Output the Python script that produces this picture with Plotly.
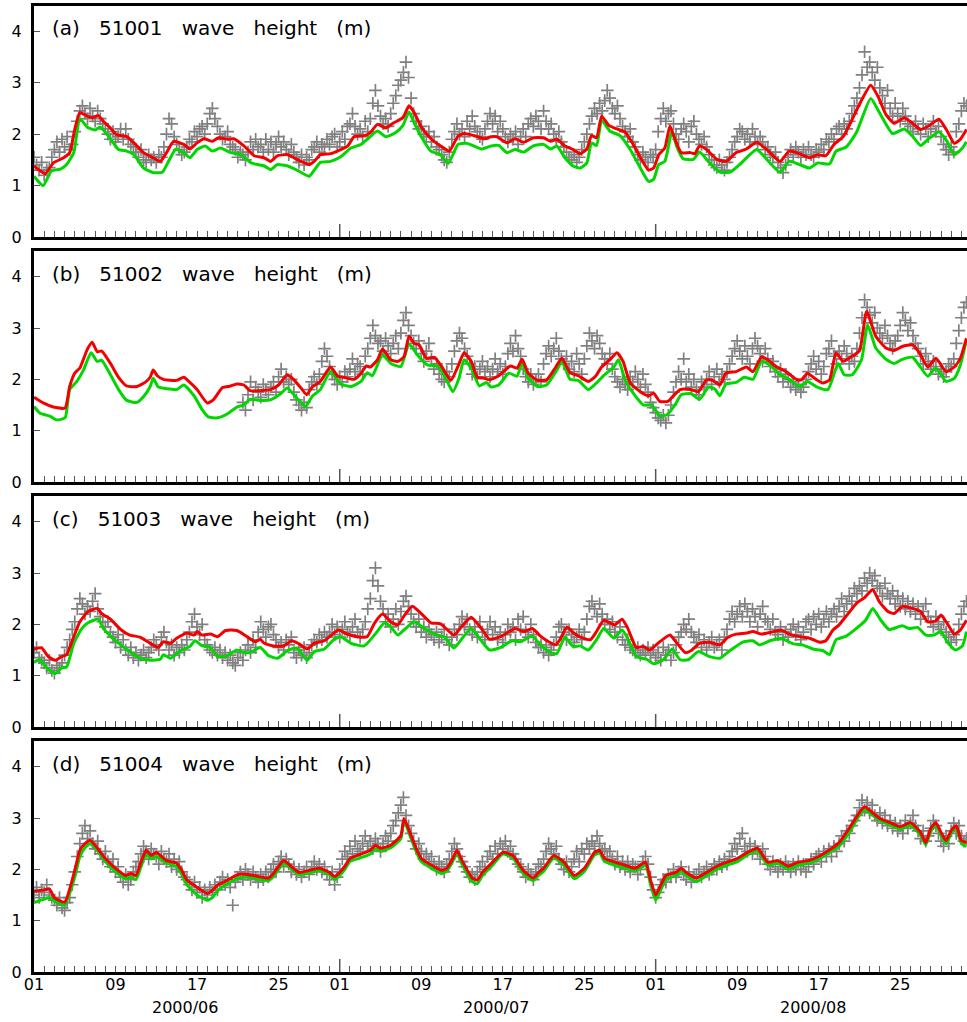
import pandas as pd
import plotly.graph_objects as go

# ---------------- data ----------------
start_date = "2000-06-01"
obs_step_days = 0.25          # observation sampling (6-hourly)
x_end_day = 91.55

panel_titles = ["(a) 51001 wave height (m)", "(b) 51002 wave height (m)",
                "(c) 51003 wave height (m)", "(d) 51004 wave height (m)"]
tick_label_dates = ["2000-06-01", "2000-06-09", "2000-06-17", "2000-06-25",
                    "2000-07-01", "2000-07-09", "2000-07-17", "2000-07-25",
                    "2000-08-01", "2000-08-09", "2000-08-17", "2000-08-25"]
tick_label_text = ["01", "09", "17", "25", "01", "09", "17", "25", "01", "09", "17", "25"]
month_label_text = ["2000/06", "2000/07", "2000/08"]
month_label_dates = ["2000-06-15 19:00", "2000-07-16 07:00", "2000-08-16 11:00"]
month_tick_dates = ["2000-07-01", "2000-08-01"]
y_tick_vals = [0, 1, 2, 3, 4]

# ---- panel (a) 51001 ----
a_red_day = [0, 0.5, 1.1, 1.9, 2.9, 3.5, 4.0, 4.5, 5.2, 5.8, 6.3, 6.8, 7.5, 8.1, 9.1, 9.8, 10.75, 11.7, 12.4, 13.0,
             13.7, 14.7, 15.3, 16.0, 16.7, 17.5, 18.1, 19.0, 19.6, 20.6, 21.6, 22.6, 23.2, 23.9, 24.9, 25.5, 26.2, 27.0,
             27.5, 28.1, 29.1, 30.1, 30.8, 31.4, 32.4, 33.0, 33.7, 34.5, 35.3, 36.2, 36.8, 37.3, 38.0, 38.95, 39.9,
             40.75, 41.6, 42.2, 43.2, 44.2, 44.85, 45.4, 46.4, 47.2, 48.05, 49.0, 50.0, 50.7, 51.3, 52.1, 52.9, 53.6,
             54.25, 54.7, 55.2, 55.7, 56.4, 57.2, 58.0, 58.8, 59.6, 60.3, 60.8, 61.3, 61.9, 62.4, 62.9, 63.5, 64.4,
             64.85, 65.3, 66.0, 67.0, 67.9, 68.9, 69.9, 70.9, 71.9, 73.2, 74.1, 75.1, 76.1, 76.9, 77.7, 78.5, 79.4,
             80.2, 81.0, 82.1, 82.8, 83.6, 84.4, 85.4, 86.2, 87.0, 87.8, 88.8, 89.6, 90.3, 90.9, 91.5]
a_red_hs = [1.38, 1.30, 1.23, 1.44, 1.54, 1.64, 2.09, 2.42, 2.35, 2.32, 2.36, 2.25, 2.12, 1.99, 1.95, 1.83, 1.64, 1.54,
            1.47, 1.64, 1.86, 1.80, 1.71, 1.83, 1.91, 1.86, 1.93, 1.90, 1.91, 1.77, 1.58, 1.54, 1.47, 1.58, 1.60, 1.54,
            1.47, 1.41, 1.47, 1.60, 1.62, 1.70, 1.77, 1.95, 1.97, 2.03, 2.19, 2.12, 2.22, 2.32, 2.55, 2.42, 2.14, 1.91,
            1.77, 1.67, 1.96, 2.01, 1.97, 1.91, 1.95, 1.95, 1.83, 1.91, 1.84, 1.93, 1.93, 1.86, 1.90, 1.77, 1.70, 1.62,
            1.71, 1.97, 1.93, 2.35, 2.17, 2.10, 2.04, 1.80, 1.51, 1.30, 1.34, 1.60, 1.73, 2.16, 1.90, 1.64, 1.64, 1.62,
            1.77, 1.70, 1.51, 1.47, 1.64, 1.71, 1.84, 1.70, 1.47, 1.67, 1.62, 1.54, 1.60, 1.58, 1.80, 1.95, 2.25, 2.58,
            2.95, 2.74, 2.38, 2.21, 2.32, 2.21, 2.09, 2.16, 2.29, 2.06, 1.82, 1.90, 2.09]
a_green_day = [0, 0.9, 1.7, 2.6, 3.2, 3.9, 4.5, 5.2, 6.0, 6.5, 7.5, 8.3, 9.1, 9.8, 10.75, 11.7, 12.6, 13.2, 13.9, 14.7,
               15.3, 16.0, 16.8, 17.5, 18.3, 19.3, 20.3, 21.3, 22.6, 23.2, 23.9, 24.9, 25.8, 27.0, 27.5, 28.1, 29.1,
               30.1, 31.1, 32.1, 32.7, 33.7, 34.5, 35.5, 36.2, 36.8, 37.3, 38.0, 38.95, 39.9, 40.65, 41.6, 42.5, 43.9,
               44.85, 45.6, 46.4, 47.2, 48.05, 49.0, 50.0, 50.7, 51.3, 52.1, 52.9, 53.6, 54.25, 54.7, 55.2, 55.7, 56.5,
               57.5, 58.5, 59.5, 60.3, 60.8, 61.3, 61.9, 62.6, 63.05, 63.7, 64.7, 65.3, 66.3, 67.3, 68.3, 69.25, 70.9,
               71.9, 73.2, 74.1, 75.1, 76.1, 76.9, 78.06, 78.7, 79.7, 80.7, 82.1, 82.95, 84.25, 85.4, 86.2, 87.0, 87.8,
               88.8, 89.6, 90.3, 91.1, 91.5]
a_green_hs = [1.18, 1.00, 1.28, 1.32, 1.41, 1.64, 2.30, 2.14, 2.08, 2.14, 1.91, 1.70, 1.67, 1.60, 1.34, 1.25, 1.26,
              1.47, 1.70, 1.64, 1.54, 1.70, 1.77, 1.67, 1.73, 1.64, 1.60, 1.44, 1.38, 1.31, 1.41, 1.38, 1.30, 1.18,
              1.30, 1.45, 1.47, 1.56, 1.73, 1.80, 1.90, 2.06, 1.95, 2.03, 2.17, 2.43, 2.22, 1.95, 1.67, 1.60, 1.43,
              1.80, 1.82, 1.71, 1.77, 1.78, 1.64, 1.70, 1.65, 1.77, 1.80, 1.71, 1.77, 1.54, 1.38, 1.34, 1.44, 1.83,
              1.78, 2.27, 2.06, 1.97, 1.70, 1.34, 1.08, 1.12, 1.41, 1.47, 2.06, 1.77, 1.52, 1.51, 1.65, 1.44, 1.26,
              1.26, 1.41, 1.70, 1.51, 1.26, 1.47, 1.41, 1.34, 1.44, 1.42, 1.67, 1.75, 2.03, 2.69, 2.42, 2.01, 2.10,
              1.96, 1.78, 1.91, 2.04, 1.86, 1.60, 1.73, 1.85]
a_obs_hs = [
    1.55, 1.40, 1.30, 1.45, 1.20, 1.30, 1.35, 1.55, 1.70, 1.85, 1.65, 1.90, 1.75, 1.95, 1.70, 1.80,
    2.05, 2.25, 2.45, 2.55, 2.40, 2.30, 2.50, 2.35, 2.25, 2.45, 2.30, 2.20, 2.10, 2.00, 1.90, 2.05,
    1.85, 1.95, 2.10, 1.90, 2.10, 1.90, 1.80, 1.75, 1.65, 1.55, 1.70, 1.50, 1.45, 1.60, 1.50, 1.55,
    1.45, 1.60, 1.55, 1.75, 2.00, 2.30, 2.20, 1.95, 1.80, 1.70, 1.60, 1.65, 1.75, 1.90, 1.85, 2.05,
    1.95, 2.10, 2.15, 2.00, 2.20, 2.40, 2.50, 2.30, 2.15, 2.00, 1.90, 1.95, 2.05, 1.80, 1.75, 1.70,
    1.55, 1.65, 1.60, 1.50, 1.65, 1.85, 1.70, 1.90, 1.75, 1.80, 1.65, 1.90, 1.70, 1.85, 1.65, 1.80,
    1.95, 1.75, 1.85, 1.70, 1.60, 1.80, 1.65, 1.55, 1.45, 1.60, 1.40, 1.55, 1.50, 1.70, 1.75, 1.85,
    1.65, 1.80, 1.75, 1.90, 1.80, 1.95, 2.00, 1.75, 1.85, 2.05, 1.90, 2.15, 2.20, 2.40, 2.15, 2.00,
    2.10, 1.95, 2.25, 2.05, 2.30, 2.60, 2.85, 2.55, 2.35, 2.20, 2.30, 2.15, 2.40, 2.60, 2.75, 2.95,
    3.05, 3.20, 3.40, 3.10, 2.70, 2.40, 2.25, 2.10, 2.15, 2.00, 1.95, 2.05, 1.85, 1.95, 1.75, 1.70,
    1.60, 1.50, 1.45, 1.65, 1.90, 2.05, 2.20, 2.00, 2.10, 1.95, 2.25, 2.10, 2.35, 2.15, 2.05, 1.95,
    1.90, 2.10, 2.25, 2.40, 2.20, 2.35, 2.05, 2.25, 2.10, 1.95, 1.85, 2.00, 1.90, 2.05, 1.80, 1.95,
    2.10, 1.95, 2.20, 2.30, 2.15, 2.35, 2.25, 2.10, 2.45, 2.25, 2.10, 2.20, 2.00, 1.90, 2.05, 1.85,
    1.75, 1.65, 1.55, 1.50, 1.60, 1.45, 1.55, 1.70, 1.85, 2.00, 2.20, 2.35, 2.50, 2.40, 2.60, 2.45,
    2.65, 2.85, 2.70, 2.50, 2.40, 2.55, 2.30, 2.15, 2.05, 1.95, 2.10, 1.85, 1.75, 1.60, 1.50, 1.65,
    1.55, 1.45, 1.60, 1.55, 1.70, 2.05, 2.30, 2.50, 2.25, 2.40, 2.45, 2.20, 2.00, 1.90, 2.10, 2.20,
    2.05, 1.85, 2.15, 2.25, 2.00, 1.90, 1.80, 1.95, 1.75, 1.60, 1.50, 1.40, 1.35, 1.50, 1.40, 1.30,
    1.45, 1.55, 1.70, 1.85, 1.95, 2.10, 2.05, 1.90, 2.00, 1.85, 2.10, 1.95, 1.80, 1.95, 1.85, 1.70,
    1.75, 1.60, 1.55, 1.65, 1.45, 1.35, 1.25, 1.40, 1.55, 1.70, 1.60, 1.75, 1.65, 1.55, 1.70, 1.60,
    1.75, 1.60, 1.55, 1.70, 1.65, 1.80, 1.70, 1.90, 1.85, 2.00, 1.90, 2.10, 2.15, 2.00, 2.20, 2.10,
    2.25, 2.40, 2.55, 2.70, 2.90, 3.15, 3.60, 3.30, 3.40, 3.20, 3.05, 3.30, 2.90, 2.75, 2.60, 2.85,
    2.50, 2.35, 2.60, 2.40, 2.25, 2.50, 2.35, 2.20, 2.15, 2.05, 2.25, 2.10, 2.00, 2.20, 2.10, 1.95,
    2.10, 2.25, 2.05, 2.15, 1.95, 1.80, 1.70, 1.60, 1.75, 1.65, 2.05, 2.20, 2.45, 2.60, 2.55]

# ---- panel (b) 51002 ----
b_red_day = [0, 0.9, 1.9, 3.05, 3.5, 4.0, 4.5, 5.2, 5.7, 6.2, 6.65, 7.5, 8.3, 9.1, 10.1, 10.9, 11.4, 11.7, 12.1, 12.7,
             14.0, 14.7, 15.3, 16.0, 17.0, 17.6, 18.5, 19.3, 19.9, 20.6, 21.2, 22.2, 23.2, 24.0, 24.85, 25.5, 26.2,
             26.75, 27.3, 28.1, 29.1, 29.8, 30.4, 31.4, 32.1, 32.6, 33.0, 33.7, 34.2, 35.0, 35.7, 36.3, 36.8, 37.3,
             37.8, 38.5, 39.3, 40.1, 40.9, 41.6, 42.2, 42.9, 43.5, 44.2, 44.7, 45.6, 46.75, 47.4, 47.9, 48.5, 49.4,
             50.3, 51.2, 51.8, 52.6, 53.4, 54.4, 55.1, 55.7, 56.5, 57.2, 57.8, 58.5, 59.5, 60.3, 60.8, 61.4, 62.2,
             62.7, 63.4, 64.4, 65.2, 66.0, 66.6, 67.3, 67.9, 68.9, 69.9, 70.55, 71.4, 72.0, 72.8, 73.8, 74.8, 75.3,
             75.9, 76.6, 77.4, 78.06, 78.7, 79.4, 80.2, 81.0, 81.7, 82.6, 83.6, 84.4, 85.2, 86.2, 86.9, 87.7, 88.5,
             89.5, 90.3, 90.9, 91.5]
b_red_hs = [1.65, 1.54, 1.46, 1.44, 1.86, 2.12, 2.22, 2.57, 2.72, 2.54, 2.55, 2.31, 2.04, 1.87, 1.86, 1.94, 2.04,
            2.18, 2.07, 2.00, 1.98, 2.04, 1.94, 1.80, 1.54, 1.60, 1.84, 1.87, 1.91, 1.89, 1.78, 1.78, 1.80, 1.89,
            2.09, 1.99, 1.83, 1.70, 1.85, 1.96, 2.24, 2.06, 2.04, 2.00, 2.12, 2.26, 2.24, 2.38, 2.59, 2.38, 2.35,
            2.44, 2.84, 2.70, 2.67, 2.41, 2.43, 2.22, 1.98, 2.25, 2.52, 2.35, 2.04, 2.02, 1.99, 2.07, 2.26, 2.22,
            2.39, 2.12, 1.98, 1.99, 2.24, 2.41, 2.13, 2.07, 1.96, 2.06, 2.24, 2.38, 2.52, 2.35, 1.93, 1.76, 1.68,
            1.73, 1.57, 1.57, 1.67, 1.80, 1.80, 1.76, 1.99, 1.98, 1.89, 2.12, 2.15, 2.24, 2.15, 2.44, 2.38, 2.25,
            2.15, 2.00, 1.99, 2.12, 2.02, 1.93, 1.99, 2.52, 2.35, 2.44, 2.56, 3.32, 2.84, 2.61, 2.56, 2.64, 2.67,
            2.51, 2.24, 2.41, 2.15, 2.24, 2.41, 2.80]
b_green_day = [0, 0.6, 1.6, 2.2, 3.05, 3.5, 4.2, 4.85, 5.6, 6.2, 6.65, 7.5, 8.3, 9.1, 10.1, 10.9, 11.4, 11.7, 12.2,
               13.4, 14.0, 14.7, 15.7, 16.5, 17.1, 18.0, 19.0, 19.9, 20.6, 21.2, 22.2, 23.2, 24.2, 24.85, 25.8, 26.65,
               27.3, 28.1, 29.1, 30.1, 31.1, 32.1, 32.7, 33.2, 34.2, 35.0, 36.0, 36.8, 37.6, 38.6, 39.6, 40.3, 41.1,
               41.7, 42.2, 42.9, 43.7, 44.4, 44.85, 45.6, 46.6, 47.4, 47.9, 48.5, 49.4, 50.3, 51.3, 51.8, 52.6, 53.4,
               54.4, 55.2, 56.0, 56.9, 57.35, 58.0, 58.8, 59.8, 60.6, 61.4, 62.1, 62.9, 63.5, 64.5, 65.3, 66.2, 66.8,
               67.3, 67.9, 68.9, 69.7, 70.55, 71.4, 72.2, 73.2, 74.1, 75.1, 75.9, 76.75, 77.9, 78.9, 79.5, 80.3, 81.2,
               81.8, 82.6, 83.6, 84.4, 85.2, 86.2, 86.9, 87.7, 88.5, 89.5, 90.3, 90.9, 91.5]
b_green_hs = [1.47, 1.34, 1.28, 1.21, 1.25, 1.80, 1.96, 2.18, 2.52, 2.35, 2.37, 2.09, 1.80, 1.59, 1.55, 1.70, 1.86,
              2.02, 1.85, 1.81, 1.80, 1.89, 1.68, 1.41, 1.27, 1.25, 1.33, 1.46, 1.50, 1.61, 1.59, 1.60, 1.72, 1.83,
              1.63, 1.47, 1.67, 1.80, 2.15, 1.91, 1.86, 1.96, 2.13, 2.07, 2.48, 2.31, 2.25, 2.69, 2.48, 2.28, 2.26,
              2.06, 1.76, 2.02, 2.38, 2.22, 1.87, 1.94, 1.85, 1.89, 2.12, 2.06, 2.33, 2.02, 1.86, 1.89, 2.18, 2.35,
              2.00, 1.98, 1.80, 1.93, 2.09, 2.24, 2.38, 1.99, 1.73, 1.50, 1.50, 1.29, 1.31, 1.50, 1.70, 1.72, 1.61,
              1.85, 1.81, 1.68, 1.91, 1.94, 2.04, 2.00, 2.35, 2.28, 2.09, 2.00, 1.85, 1.96, 1.86, 1.80, 2.31, 2.09,
              2.09, 2.38, 3.06, 2.61, 2.39, 2.31, 2.39, 2.43, 2.26, 2.06, 2.22, 1.96, 2.02, 2.28, 2.77]
b_obs_hs = [None] * 82 + [
    1.55, 1.40, 1.70, 1.95, 1.60, 1.85, 1.75, 1.65, 1.90, 1.80, 1.70, 1.85, 1.95, 1.75,
    2.05, 2.20, 1.95, 2.05, 1.90, 2.00, 1.75, 1.60, 1.50, 1.40, 1.55, 1.45, 1.80, 1.95, 2.05, 1.90,
    2.10, 2.35, 2.60, 2.45, 2.25, 2.10, 2.00, 1.90, 2.05, 1.95, 2.15, 2.05, 2.20, 2.40, 2.15, 2.30,
    2.25, 2.10, 2.45, 2.60, 2.80, 3.05, 2.85, 2.70, 2.75, 2.55, 2.80, 2.65, 2.50, 2.70, 2.85, 2.60,
    2.90, 3.15, 3.30, 3.05, 2.85, 2.70, 2.60, 2.75, 2.50, 2.35, 2.55, 2.70, 2.40, 2.20, 2.30, 2.10,
    2.00, 1.95, 2.15, 2.05, 2.30, 2.55, 2.75, 2.90, 2.80, 2.60, 2.45, 2.30, 2.10, 2.25, 2.05, 2.20,
    2.35, 2.15, 2.25, 2.05, 2.20, 2.40, 2.15, 2.30, 2.10, 2.25, 2.50, 2.70, 2.55, 2.85, 2.60, 2.45,
    2.20, 2.05, 1.95, 2.10, 1.90, 2.00, 2.10, 1.95, 2.30, 2.50, 2.65, 2.45, 2.60, 2.80, 2.55, 2.40,
    2.30, 2.45, 2.20, 2.35, 2.15, 2.50, 2.30, 2.10, 2.40, 2.65, 2.90, 2.75, 2.60, 2.85, 2.70, 2.50,
    2.40, 2.30, 2.50, 2.20, 2.05, 1.95, 1.85, 2.00, 1.90, 1.80, 2.05, 1.95, 2.15, 2.00, 1.85, 2.10,
    1.90, 1.75, 1.55, 1.45, 1.35, 1.25, 1.20, 1.30, 1.15, 1.30, 1.50, 1.75, 1.95, 2.15, 2.00, 2.40,
    1.95, 2.10, 1.85, 2.00, 1.80, 1.70, 1.95, 1.85, 2.00, 2.15, 1.90, 2.05, 2.20, 1.95, 2.10, 2.00,
    2.15, 2.30, 2.45, 2.60, 2.75, 2.55, 2.40, 2.65, 2.45, 2.30, 2.60, 2.80, 2.65, 2.50, 2.35, 2.60,
    2.40, 2.25, 2.35, 2.15, 2.05, 2.20, 1.95, 2.10, 2.00, 1.85, 1.95, 1.80, 1.90, 1.75, 1.85, 2.00,
    2.15, 2.30, 2.45, 2.20, 2.35, 2.10, 2.25, 2.50, 2.60, 2.75, 2.45, 2.30, 2.55, 2.40, 2.65, 2.50,
    2.30, 2.45, 2.35, 2.60, 2.90, 3.20, 3.55, 3.40, 3.25, 3.10, 3.30, 3.00, 2.90, 2.80, 3.05, 2.85,
    2.70, 2.60, 2.75, 2.85, 3.05, 3.30, 3.15, 2.95, 3.10, 2.85, 2.70, 2.60, 2.45, 2.30, 2.50, 2.35,
    2.20, 2.35, 2.25, 2.10, 2.20, 2.05, 2.15, 2.30, 2.25, 2.40, 2.70, 2.95, 3.20, 3.40, 3.50]

# ---- panel (c) 51003 ----
c_red_day = [0, 0.75, 1.4, 2.1, 2.7, 3.2, 3.9, 4.5, 5.3, 6.2, 6.65, 7.5, 8.5, 9.4, 10.4, 11.4, 12.2, 12.7, 13.4, 14.0,
             15.0, 15.7, 16.0, 16.5, 17.3, 18.0, 18.8, 19.9, 20.9, 21.7, 22.2, 22.6, 23.5, 24.5, 25.3, 26.0, 26.8,
             27.5, 28.5, 29.3, 29.9, 30.75, 31.7, 32.7, 33.4, 34.2, 35.0, 35.7, 36.3, 37.1, 38.0, 38.95, 39.9, 41.2,
             42.1, 42.9, 43.9, 44.7, 45.8, 46.4, 47.2, 48.05, 48.9, 49.7, 50.5, 51.2, 51.6, 52.3, 52.9, 53.6, 54.6,
             55.2, 55.9, 56.7, 57.0, 57.7, 58.2, 59.1, 59.8, 60.4, 61.4, 62.4, 62.9, 63.9, 64.5, 65.3, 66.3, 67.3,
             68.1, 68.9, 69.9, 70.55, 71.4, 72.2, 73.3, 74.1, 75.1, 76.1, 77.1, 77.7, 78.4, 79.0, 79.85, 80.7, 81.5,
             82.3, 82.95, 83.8, 84.4, 85.2, 86.2, 87.0, 87.7, 88.5, 89.0, 89.6, 90.3, 90.9, 91.5]
c_red_hs = [1.52, 1.54, 1.37, 1.30, 1.37, 1.41, 1.76, 2.05, 2.25, 2.31, 2.21, 2.10, 1.90, 1.79, 1.75, 1.63, 1.55,
            1.66, 1.63, 1.73, 1.83, 1.79, 1.86, 1.79, 1.81, 1.76, 1.88, 1.88, 1.76, 1.66, 1.71, 1.63, 1.58, 1.58,
            1.68, 1.62, 1.52, 1.63, 1.68, 1.81, 1.89, 1.81, 1.76, 1.76, 2.02, 2.20, 2.05, 1.99, 2.16, 2.35, 2.21,
            2.03, 2.01, 1.79, 1.99, 2.14, 1.92, 1.71, 1.76, 1.83, 1.92, 1.86, 1.92, 1.77, 1.66, 1.60, 1.70, 1.95,
            1.84, 1.75, 1.70, 1.86, 2.08, 2.01, 1.99, 2.10, 1.95, 1.55, 1.57, 1.50, 1.66, 1.79, 1.68, 1.45, 1.49,
            1.63, 1.65, 1.60, 1.75, 1.81, 1.83, 1.86, 1.81, 1.84, 1.89, 1.81, 1.76, 1.73, 1.65, 1.68, 1.89, 1.99,
            2.20, 2.41, 2.52, 2.68, 2.44, 2.25, 2.21, 2.35, 2.31, 2.25, 2.05, 2.07, 2.18, 2.02, 1.81, 1.89, 2.08]
c_green_day = [0, 0.6, 1.25, 2.1, 2.7, 3.2, 3.9, 4.7, 5.3, 6.3, 6.8, 7.6, 8.5, 9.4, 10.4, 11.4, 12.4, 12.7, 13.4,
               14.4, 15.3, 15.8, 16.5, 17.3, 18.0, 18.95, 19.9, 20.6, 21.2, 22.2, 23.0, 23.9, 24.9, 25.8, 26.8, 27.5,
               28.5, 29.4, 30.1, 31.1, 32.4, 33.4, 34.4, 35.0, 35.7, 36.3, 37.3, 38.3, 39.3, 40.3, 41.2, 42.1, 42.9,
               43.7, 44.7, 45.8, 46.9, 47.7, 48.9, 49.7, 50.7, 51.3, 52.1, 52.9, 53.6, 54.4, 55.2, 55.9, 56.9, 57.7,
               58.2, 59.1, 60.1, 60.8, 61.75, 62.6, 63.4, 64.2, 65.2, 66.3, 67.3, 68.3, 69.6, 70.55, 71.2, 72.2,
               73.3, 74.5, 75.4, 76.4, 77.4, 78.06, 78.7, 79.7, 80.7, 81.6, 82.3, 83.1, 83.9, 85.2, 85.9, 86.7,
               87.5, 88.3, 89.0, 89.6, 90.4, 91.1, 91.5]
c_green_hs = [1.26, 1.31, 1.15, 1.04, 1.15, 1.17, 1.63, 1.92, 2.03, 2.10, 1.92, 1.75, 1.60, 1.47, 1.34, 1.30, 1.32,
              1.41, 1.34, 1.49, 1.57, 1.68, 1.58, 1.55, 1.37, 1.39, 1.50, 1.45, 1.45, 1.55, 1.39, 1.34, 1.49, 1.54,
              1.30, 1.47, 1.52, 1.70, 1.76, 1.63, 1.58, 1.79, 2.03, 1.95, 1.79, 1.89, 2.05, 1.92, 1.81, 1.75, 1.54,
              1.75, 1.92, 1.73, 1.50, 1.55, 1.68, 1.66, 1.77, 1.60, 1.45, 1.43, 1.75, 1.57, 1.58, 1.50, 1.70, 1.92,
              1.73, 1.89, 1.75, 1.37, 1.32, 1.23, 1.31, 1.52, 1.31, 1.31, 1.47, 1.37, 1.34, 1.49, 1.66, 1.68, 1.60,
              1.68, 1.73, 1.62, 1.60, 1.52, 1.49, 1.41, 1.70, 1.77, 1.92, 2.08, 2.31, 2.08, 1.90, 1.97, 1.92, 1.94,
              1.79, 1.79, 1.86, 1.66, 1.50, 1.58, 1.86]
c_obs_hs = [
    1.45, 1.55, 1.35, 1.30, 1.25, 1.15, 1.30, 1.10, 1.05, 1.20, 1.15, 1.25, 1.40, 1.55, 1.70, 1.90,
    2.05, 2.30, 2.50, 2.40, 2.20, 2.35, 2.25, 2.45, 2.60, 2.30, 2.15, 2.05, 1.95, 2.05, 1.85, 1.75,
    1.65, 1.80, 1.55, 1.70, 1.50, 1.40, 1.55, 1.35, 1.45, 1.30, 1.40, 1.50, 1.35, 1.45, 1.55, 1.70,
    1.60, 1.50, 1.75, 1.85, 1.65, 1.50, 1.60, 1.40, 1.55, 1.45, 1.60, 1.50, 1.70, 1.85, 2.05, 2.20,
    1.95, 1.80, 2.00, 1.70, 1.60, 1.50, 1.45, 1.55, 1.40, 1.50, 1.35, 1.45, 1.30, 1.40, 1.25, 1.20,
    1.35, 1.45, 1.30, 1.50, 1.60, 1.45, 1.70, 1.55, 1.85, 2.05, 1.90, 1.75, 1.95, 2.00, 1.80, 1.70,
    1.55, 1.65, 1.50, 1.70, 1.60, 1.75, 1.45, 1.35, 1.50, 1.40, 1.55, 1.35, 1.45, 1.60, 1.70, 1.65,
    1.80, 1.70, 1.85, 1.75, 1.85, 2.00, 1.80, 1.95, 1.75, 1.90, 2.05, 1.85, 1.80, 1.95, 2.10, 1.85,
    1.75, 1.90, 2.05, 2.30, 2.50, 2.85, 3.10, 2.75, 2.45, 2.30, 2.05, 2.20, 1.95, 2.10, 2.30, 2.00,
    2.25, 2.45, 2.55, 2.35, 2.20, 2.05, 1.95, 2.10, 1.85, 1.95, 1.75, 1.90, 1.80, 1.70, 1.85, 1.65,
    1.75, 1.90, 1.70, 1.60, 1.75, 1.90, 1.80, 2.00, 2.15, 1.95, 2.10, 1.90, 1.80, 1.95, 1.75, 2.05,
    1.85, 1.70, 1.90, 2.05, 1.80, 1.95, 1.70, 1.85, 1.65, 1.80, 2.00, 1.85, 1.95, 1.70, 2.10, 1.90,
    2.15, 1.85, 1.75, 2.00, 1.80, 1.65, 1.55, 1.60, 1.45, 1.55, 1.40, 1.50, 1.60, 1.75, 1.95, 2.00,
    1.85, 1.70, 1.90, 1.80, 1.65, 1.75, 1.90, 1.70, 1.85, 2.10, 2.35, 2.45, 2.30, 2.15, 2.40, 2.20,
    2.00, 2.10, 1.90, 2.05, 1.85, 1.75, 1.95, 1.70, 1.60, 1.70, 1.55, 1.50, 1.45, 1.55, 1.40, 1.50,
    1.45, 1.55, 1.40, 1.50, 1.35, 1.45, 1.30, 1.55, 1.40, 1.50, 1.30, 1.45, 1.60, 1.75, 1.85, 2.00,
    1.90, 2.10, 1.85, 1.75, 1.65, 1.80, 1.55, 1.70, 1.50, 1.65, 1.75, 1.55, 1.60, 1.70, 1.50, 1.75,
    1.90, 2.10, 2.25, 2.05, 2.20, 2.35, 2.15, 2.40, 2.25, 2.05, 2.30, 2.15, 1.95, 2.20, 2.35, 2.10,
    2.05, 1.90, 2.10, 1.85, 1.80, 1.95, 1.70, 1.85, 1.75, 1.90, 2.00, 1.80, 1.95, 1.70, 1.85, 2.05,
    2.10, 1.90, 2.15, 2.00, 2.20, 1.95, 2.10, 2.25, 2.05, 2.20, 2.30, 2.15, 2.35, 2.50, 2.25, 2.40,
    2.55, 2.45, 2.70, 2.60, 2.75, 2.65, 2.90, 2.80, 3.00, 2.85, 2.95, 2.75, 2.70, 2.55, 2.80, 2.60,
    2.50, 2.65, 2.40, 2.55, 2.35, 2.50, 2.30, 2.45, 2.25, 2.40, 2.20, 2.35, 2.10, 2.25, 2.40, 2.15,
    2.05, 1.95, 2.15, 2.00, 1.90, 2.05, 1.85, 1.75, 1.65, 1.80, 1.70, 2.00, 2.20, 2.35, 2.45]

# ---- panel (d) 51004 ----
d_red_day = [0, 1, 1.5, 2, 3, 4, 4.5, 5, 5.5, 6, 7, 8, 9, 9.5, 10, 10.5, 11, 11.5, 12, 13, 14, 14.5, 15, 16, 17, 17.5,
             18, 19, 20, 21, 22, 23, 23.5, 24, 24.5, 25, 26, 27, 28, 29, 29.5, 30, 30.5, 31, 32, 33, 33.5, 34, 35, 36,
             36.3, 37, 37.5, 38, 39, 40, 40.5, 41, 41.5, 42, 43, 43.5, 44, 45, 46, 47, 48, 49, 49.5, 50, 51, 52, 53,
             54, 55, 55.5, 56, 57, 58, 59, 60, 60.5, 61, 61.5, 62, 63, 63.5, 64, 65, 66, 67, 68, 69, 70, 71, 72, 73,
             74, 75, 76, 77, 78, 79, 80, 81, 81.5, 82, 83, 84, 85, 86, 87, 87.5, 88, 88.5, 89, 89.5, 90, 90.5, 91,
             91.5]
d_red_hs = [1.57, 1.60, 1.62, 1.45, 1.36, 1.98, 2.37, 2.50, 2.56, 2.47, 2.21, 2.02, 1.88, 1.92, 1.88, 2.14, 2.37,
            2.27, 2.33, 2.17, 2.12, 1.98, 1.79, 1.65, 1.53, 1.59, 1.69, 1.79, 1.90, 1.90, 1.86, 1.83, 1.92, 2.06,
            2.17, 2.10, 1.94, 1.98, 2.02, 1.94, 1.86, 1.94, 2.06, 2.21, 2.29, 2.37, 2.47, 2.41, 2.47, 2.66, 2.99,
            2.66, 2.41, 2.21, 2.08, 1.98, 2.02, 2.17, 2.37, 2.17, 1.83, 1.79, 1.94, 2.14, 2.33, 2.27, 1.98, 1.83,
            1.94, 2.02, 2.27, 2.14, 1.88, 2.02, 2.33, 2.37, 2.21, 2.14, 2.08, 2.02, 2.14, 1.79, 1.50, 1.69, 1.88,
            1.94, 2.02, 1.94, 1.83, 1.94, 2.06, 2.14, 2.21, 2.33, 2.41, 2.14, 2.17, 2.06, 2.14, 2.17, 2.25, 2.37,
            2.52, 2.80, 3.11, 3.22, 3.15, 2.99, 2.91, 2.83, 2.91, 2.72, 2.52, 2.80, 2.91, 2.72, 2.56, 2.76, 2.85,
            2.56, 2.52]
d_green_day = d_red_day
d_green_hs = [1.35, 1.42, 1.45, 1.38, 1.30, 1.85, 2.25, 2.42, 2.50, 2.42, 2.15, 1.95, 1.82, 1.85, 1.80, 2.05, 2.30,
              2.20, 2.25, 2.12, 2.05, 1.90, 1.70, 1.50, 1.40, 1.45, 1.58, 1.72, 1.82, 1.85, 1.80, 1.78, 1.86, 2.00,
              2.12, 2.05, 1.90, 1.93, 1.97, 1.90, 1.80, 1.88, 2.00, 2.15, 2.22, 2.30, 2.40, 2.35, 2.42, 2.60, 2.95,
              2.60, 2.35, 2.15, 2.02, 1.92, 1.96, 2.12, 2.32, 2.10, 1.76, 1.72, 1.88, 2.08, 2.30, 2.22, 1.92, 1.78,
              1.88, 1.96, 2.22, 2.08, 1.82, 1.96, 2.28, 2.32, 2.15, 2.08, 2.02, 1.97, 2.08, 1.70, 1.40, 1.60, 1.80,
              1.88, 1.96, 1.88, 1.76, 1.88, 2.00, 2.08, 2.15, 2.28, 2.36, 2.08, 2.12, 2.00, 2.08, 2.12, 2.20, 2.32,
              2.45, 2.72, 3.05, 3.15, 3.10, 2.95, 2.86, 2.78, 2.86, 2.66, 2.48, 2.74, 2.86, 2.66, 2.50, 2.70, 2.80,
              2.50, 2.45]
d_obs_hs = [
    1.50, 1.65, 1.45, 1.60, 1.55, 1.70, 1.50, 1.45, 1.40, 1.30, 1.45, 1.25, 1.20, 1.35, 1.45, 1.70,
    1.95, 2.25, 2.50, 2.70, 2.85, 2.60, 2.75, 2.50, 2.40, 2.55, 2.30, 2.20, 2.35, 2.15, 2.05, 2.20,
    1.95, 2.05, 1.85, 1.75, 1.90, 1.70, 1.80, 1.95, 2.05, 2.15, 2.30, 2.45, 2.35, 2.20, 2.40, 2.30,
    2.25, 2.10, 2.35, 2.20, 2.15, 2.30, 2.05, 2.20, 2.00, 2.15, 1.95, 1.85, 1.80, 1.70, 1.60, 1.75,
    1.55, 1.65, 1.45, 1.60, 1.50, 1.65, 1.55, 1.70, 1.60, 1.75, 1.85, 1.70, 1.80, 1.65, 1.30, 1.75,
    1.85, 1.95, 1.80, 2.00, 1.90, 1.80, 1.95, 1.85, 1.75, 1.90, 1.80, 1.95, 1.85, 2.00, 2.10, 1.95,
    2.15, 2.25, 2.05, 2.20, 2.10, 1.95, 2.05, 1.90, 2.00, 1.85, 1.95, 2.05, 1.90, 2.05, 2.15, 2.00,
    2.10, 1.95, 2.05, 1.90, 1.80, 1.95, 1.70, 1.85, 2.00, 2.20, 2.35, 2.25, 2.45, 2.30, 2.55, 2.40,
    2.35, 2.50, 2.65, 2.45, 2.55, 2.40, 2.60, 2.50, 2.35, 2.50, 2.65, 2.55, 2.70, 2.85, 2.95, 3.10,
    3.25, 3.40, 3.05, 2.85, 2.70, 2.55, 2.40, 2.50, 2.35, 2.20, 2.30, 2.15, 2.25, 2.10, 2.00, 2.15,
    2.05, 1.95, 2.10, 2.20, 2.35, 2.50, 2.40, 2.25, 2.15, 2.05, 1.95, 1.85, 1.90, 1.80, 1.95, 2.05,
    2.15, 2.00, 2.25, 2.35, 2.20, 2.45, 2.30, 2.50, 2.40, 2.55, 2.35, 2.45, 2.30, 2.20, 2.10, 2.05,
    1.95, 1.85, 2.00, 1.90, 1.80, 1.95, 2.10, 2.05, 2.20, 2.35, 2.50, 2.40, 2.30, 2.45, 2.20, 2.10,
    2.00, 2.15, 1.95, 2.05, 2.20, 2.35, 2.15, 2.40, 2.30, 2.50, 2.40, 2.55, 2.45, 2.65, 2.50, 2.35,
    2.40, 2.25, 2.35, 2.20, 2.10, 2.25, 2.05, 2.15, 2.00, 2.15, 1.95, 2.10, 2.05, 1.90, 2.00, 2.15,
    2.25, 2.10, 1.85, 1.60, 1.45, 1.55, 1.70, 1.80, 1.75, 1.90, 1.85, 2.00, 1.85, 1.95, 2.05, 1.90,
    1.80, 1.95, 1.75, 1.85, 1.90, 2.00, 1.85, 1.95, 2.05, 1.90, 2.00, 2.10, 2.00, 2.15, 2.05, 2.20,
    2.10, 2.25, 2.35, 2.50, 2.40, 2.60, 2.70, 2.45, 2.35, 2.50, 2.30, 2.45, 2.35, 2.20, 2.40, 2.25,
    2.10, 2.00, 2.15, 2.05, 1.95, 2.10, 2.00, 2.15, 2.05, 1.95, 2.10, 2.00, 2.15, 2.00, 2.10, 1.95,
    2.05, 2.20, 2.10, 2.25, 2.30, 2.15, 2.35, 2.25, 2.40, 2.25, 2.45, 2.35, 2.50, 2.65, 2.55, 2.75,
    2.70, 2.85, 2.95, 3.05, 3.20, 3.35, 3.15, 3.30, 3.10, 3.25, 3.05, 2.95, 3.10, 2.90, 3.05, 2.85,
    2.95, 2.80, 2.90, 2.75, 2.85, 2.70, 2.95, 2.80, 2.90, 3.05, 2.85, 2.75, 2.60, 2.75, 2.55, 2.65,
    2.80, 2.95, 2.85, 2.70, 2.55, 2.45, 2.65, 2.50, 2.75, 2.90, 2.70, 2.85, 2.65, 2.55, 2.60]

panels = [
    (a_obs_hs, a_green_day, a_green_hs, a_red_day, a_red_hs),
    (b_obs_hs, b_green_day, b_green_hs, b_red_day, b_red_hs),
    (c_obs_hs, c_green_day, c_green_hs, c_red_day, c_red_hs),
    (d_obs_hs, d_green_day, d_green_hs, d_red_day, d_red_hs),
]

# ---------------- layout geometry (pixels) ----------------
W, H = 967, 1022
M_L, M_R, M_T, M_B = 34, 0, 0, 50
panel_px = [(5.5, 237), (251, 482), (496, 727), (741, 972)]   # top, bottom
plot_h = H - M_T - M_B

FONT = "DejaVu Sans"
OBS_COLOR = "rgb(128,128,128)"
GREEN = "rgb(0,215,0)"
RED = "rgb(245,0,0)"
TICK_COLOR = "#555555"

base = pd.Timestamp(start_date)


def to_dates(days):
    return [base + pd.Timedelta(days=float(d)) for d in days]


fig = go.Figure()
layout = dict(
    width=W, height=H,
    margin=dict(l=M_L, r=M_R, t=M_T, b=M_B, pad=0),
    paper_bgcolor="white", plot_bgcolor="white",
    showlegend=False,
    font=dict(family=FONT, size=16, color="black"),
)
annotations = []
shapes = []
x_range = [base, base + pd.Timedelta(days=x_end_day)]

for i, (obs, gday, ghs, rday, rhs) in enumerate(panels):
    n = i + 1
    xa = "x" if n == 1 else f"x{n}"
    ya = "y" if n == 1 else f"y{n}"
    top, bot = panel_px[i]
    dom = [(plot_h - (bot - M_T)) / plot_h, (plot_h - (top - M_T)) / plot_h]

    obs_x = to_dates([k * obs_step_days for k in range(len(obs))])
    fig.add_trace(go.Scatter(x=obs_x, y=obs, mode="markers", xaxis=xa, yaxis=ya,
                             marker=dict(symbol="cross-thin", size=9,
                                         line=dict(color=OBS_COLOR, width=1.7)),
                             hoverinfo="skip"))
    fig.add_trace(go.Scatter(x=to_dates(gday), y=ghs, mode="lines", xaxis=xa, yaxis=ya,
                             line=dict(color=GREEN, width=3, shape="spline", smoothing=0.5),
                             hoverinfo="skip"))
    fig.add_trace(go.Scatter(x=to_dates(rday), y=rhs, mode="lines", xaxis=xa, yaxis=ya,
                             line=dict(color=RED, width=3, shape="spline", smoothing=0.5),
                             hoverinfo="skip"))

    xkey = "xaxis" if n == 1 else f"xaxis{n}"
    ykey = "yaxis" if n == 1 else f"yaxis{n}"
    layout[xkey] = dict(
        domain=[0, 1], anchor=ya, range=x_range, type="date",
        showgrid=False, zeroline=False,
        showline=True, linewidth=3, linecolor="black", mirror=True,
        tickmode="array", tickvals=tick_label_dates, ticktext=tick_label_text,
        showticklabels=(n == 4), ticklabelstandoff=-4,
        ticks="inside", ticklen=6, tickwidth=1, tickcolor=TICK_COLOR,
        tickfont=dict(family=FONT, size=16, color="black"),
        minor=dict(dtick=86400000, tick0=start_date, ticks="inside", ticklen=6,
                   tickwidth=1, tickcolor=TICK_COLOR, showgrid=False),
    )
    layout[ykey] = dict(
        domain=dom, anchor=xa, range=[0, 4.5],
        showgrid=False, zeroline=False,
        showline=True, linewidth=3, linecolor="black", mirror=False,
        tickmode="array", tickvals=y_tick_vals, ticktext=[str(v) for v in y_tick_vals],
        ticks="inside", ticklen=6, tickwidth=1, tickcolor=TICK_COLOR,
        ticklabelstandoff=6,
        tickfont=dict(family=FONT, size=16, color="black"),
    )

    # longer ticks at month boundaries
    for md in month_tick_dates:
        shapes.append(dict(type="line", xref=xa, yref=f"{ya} domain",
                           x0=md, x1=md, y0=0, y1=13 / (bot - top),
                           line=dict(color=TICK_COLOR, width=1.5)))

    annotations.append(dict(
        text=panel_titles[i].replace(" ", "\u00a0 \u00a0"),
        xref="paper", x=(50 - M_L) / (W - M_L - M_R), xanchor="left",
        yref=f"{ya} domain", y=1 - 22.5 / (bot - top), yanchor="middle",
        showarrow=False, font=dict(family=FONT, size=20, color="black")))

for txt, md in zip(month_label_text, month_label_dates):
    annotations.append(dict(text=txt, xref="x4", x=md, xanchor="center",
                            yref="paper", y=(plot_h - (1007 - M_T)) / plot_h, yanchor="middle",
                            showarrow=False, font=dict(family=FONT, size=16, color="black")))

layout["annotations"] = annotations
layout["shapes"] = shapes
fig.update_layout(**layout)
# remove the browser's default 8px page margin so the figure sits at the window origin
fig.write_html("out.html", config={"displayModeBar": False},
               post_script="document.body.style.margin='0px';document.body.style.overflow='hidden';")
